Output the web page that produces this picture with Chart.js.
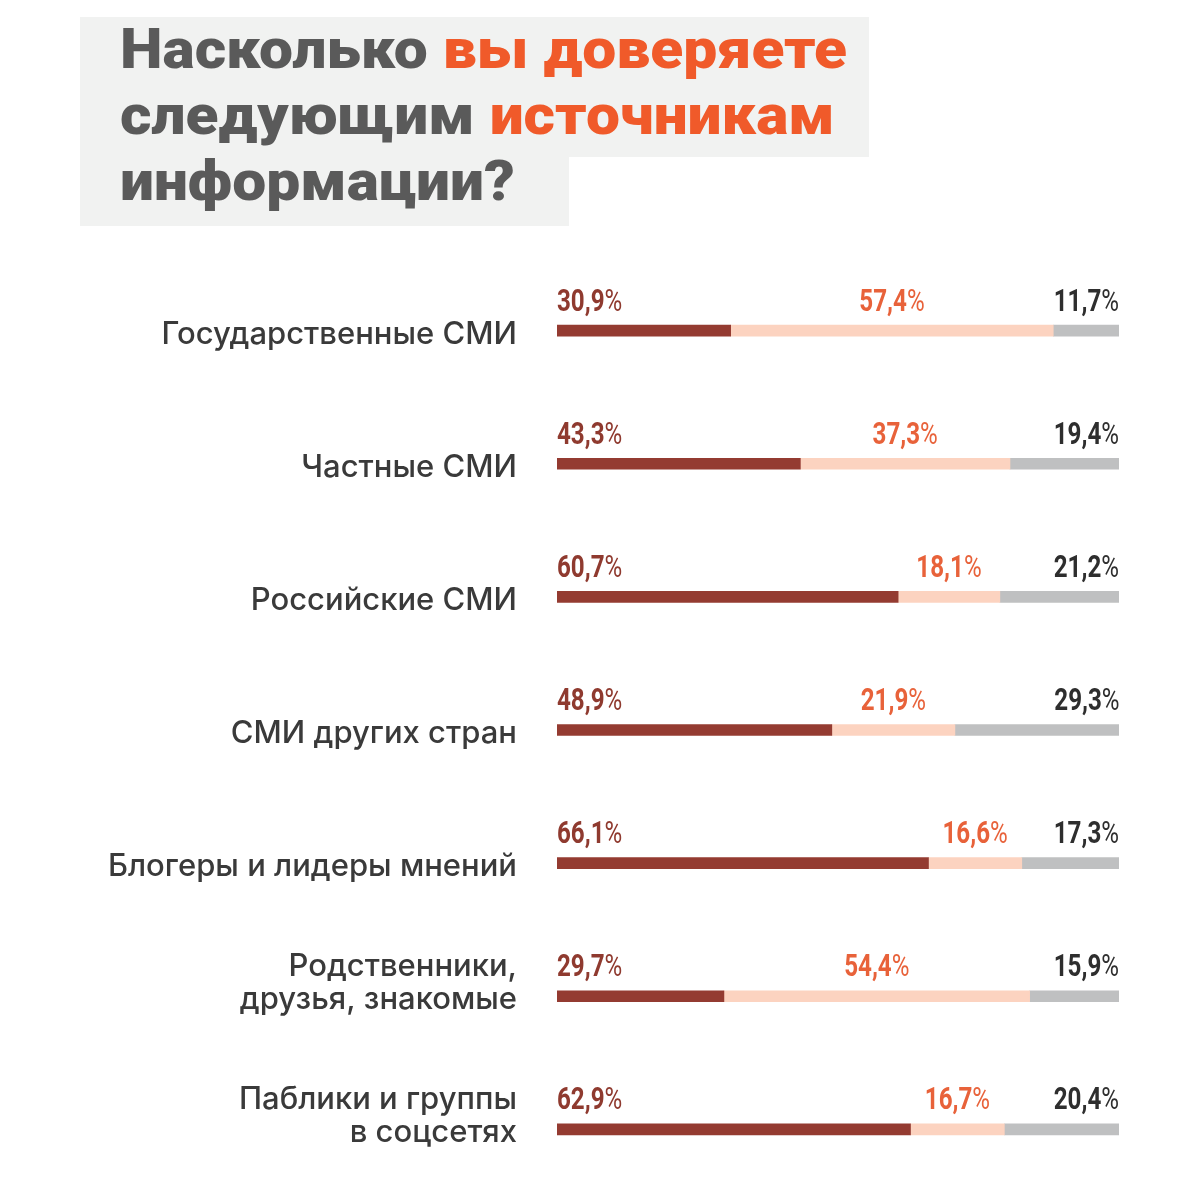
<!DOCTYPE html>
<html><head><meta charset="utf-8">
<script src="https://cdn.jsdelivr.net/npm/chart.js@4.4.0/dist/chart.umd.min.js"></script>
<style>
html,body{margin:0;padding:0;background:#fff;}
#wrap{position:relative;width:1200px;height:1200px;overflow:hidden;background:#fff;}
#bg1{position:absolute;left:80px;top:17px;width:789px;height:140px;background:#f1f2f1;}
#bg2{position:absolute;left:80px;top:157px;width:489px;height:69px;background:#f1f2f1;}
#title{position:absolute;left:120px;top:16px;font-family:Roboto,'Noto Sans',sans-serif;font-weight:900;font-size:56px;line-height:66px;color:#5a5a5a;white-space:nowrap;z-index:2;transform:scaleX(1.08);transform-origin:0 0;}
#title .hl{color:#f05a2a;}
#c{position:absolute;left:0;top:0;z-index:1;}
</style></head>
<body>
<div id="wrap">
  <div id="bg1"></div><div id="bg2"></div>
  <div id="title">Насколько <span class="hl">вы доверяете</span><br>следующим <span class="hl">источникам</span><br>информации?</div>
  <canvas id="c" width="1200" height="1200"></canvas>
</div>
<script>
const categories = [
  ['Государственные СМИ'],
  ['Частные СМИ'],
  ['Российские СМИ'],
  ['СМИ других стран'],
  ['Блогеры и лидеры мнений'],
  ['Родственники,', 'друзья, знакомые'],
  ['Паблики и группы', 'в соцсетях']
];
const seriesDark  = [30.9, 43.3, 60.7, 48.9, 66.1, 29.7, 62.9];
const seriesLight = [57.4, 37.3, 18.1, 21.9, 16.6, 54.4, 16.7];
const seriesGray  = [11.7, 19.4, 21.2, 29.3, 17.3, 15.9, 20.4];

const barColors = ['#943b31', '#fcd3c0', '#bfc0c1'];
const labelColors = ['#8f3a2f', '#e8623a', '#2e2e2e'];

const labelPlugin = {
  id: 'labels',
  afterDatasetsDraw(chart){
    const ctx = chart.ctx;
    const yScale = chart.scales.y;
    ctx.save();
    ctx.fillStyle = '#3a3a3a';
    ctx.font = '500 31px Inter, Roboto, sans-serif';
    ctx.textAlign = 'right';
    ctx.textBaseline = 'alphabetic';
    categories.forEach((lines, i) => {
      const y = yScale.getPixelForValue(i);
      const n = lines.length;
      lines.forEach((t, k) => {
        ctx.fillText(t, 517, y + 13 - (n - 1 - k) * 33);
      });
    });
    ctx.restore();
    const sx = 0.78;
    const fsz = 31;
    chart.data.datasets.forEach((ds, d) => {
      const meta = chart.getDatasetMeta(d);
      meta.data.forEach((bar, i) => {
        const v = ds.data[i];
        const txt = v.toFixed(1).replace('.', ',');
        ctx.save();
        ctx.font = '700 ' + fsz + 'px Roboto, sans-serif';
        const w1 = ctx.measureText(txt).width;
        ctx.font = '400 ' + fsz + 'px Roboto, sans-serif';
        const w2 = ctx.measureText('%').width;
        const tw = (w1 + w2) * sx;
        const left = Math.min(bar.x, bar.base);
        const right = Math.max(bar.x, bar.base);
        let x0;
        if (d === 0) x0 = left;
        else if (d === 1) x0 = (left + right) / 2 - tw / 2;
        else x0 = right - tw;
        const yb = bar.y - 20;
        ctx.translate(x0, yb);
        ctx.scale(sx, 1);
        ctx.fillStyle = labelColors[d];
        ctx.textAlign = 'left';
        ctx.textBaseline = 'alphabetic';
        ctx.font = '700 ' + fsz + 'px Roboto, sans-serif';
        ctx.fillText(txt, 0, 0);
        ctx.font = '400 ' + fsz + 'px Roboto, sans-serif';
        ctx.fillText('%', w1, 0);
        ctx.restore();
      });
    });
  }
};

new Chart(document.getElementById('c'), {
  type: 'bar',
  data: {
    labels: categories,
    datasets: [
      { data: seriesDark,  backgroundColor: barColors[0] },
      { data: seriesLight, backgroundColor: barColors[1] },
      { data: seriesGray,  backgroundColor: barColors[2] }
    ]
  },
  options: {
    indexAxis: 'y',
    responsive: false,
    animation: false,
    maintainAspectRatio: false,
    layout: { padding: { left: 557, right: 81, top: 264, bottom: 4 } },
    datasets: { bar: { barThickness: 11, borderWidth: 0, borderSkipped: false } },
    plugins: { legend: { display: false }, tooltip: { enabled: false } },
    scales: {
      x: { stacked: true, min: 0, max: 100, display: false },
      y: { stacked: true, display: false }
    }
  },
  plugins: [labelPlugin]
});
</script>
</body></html>
